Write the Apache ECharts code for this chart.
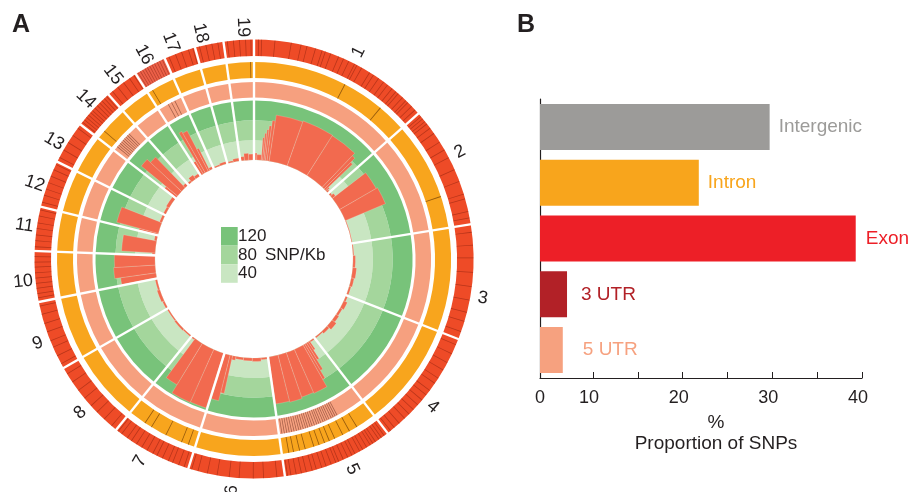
<!DOCTYPE html>
<html><head><meta charset="utf-8">
<script src="https://cdn.jsdelivr.net/npm/echarts@6.0.0/dist/echarts.min.js"></script>
<style>html,body{margin:0;padding:0;background:#fff}#c{width:911px;height:492px}</style>
</head><body><div id="c"></div>
<script>
// ---------------- Panel A data ----------------
const chromNames = ['1','2','3','4','5','6','7','8','9','10','11','12','13','14','15','16','17','18','19'];
// chromosome boundaries (degrees clockwise from top)
const chromBounds = [0, 48.5, 80.9, 111.4, 142.5, 171.9, 197.4, 218.9, 240.2, 258.7, 272.1, 283.8, 296.3, 307.8, 318.5, 327.4, 336.0, 344.4, 352.0, 360];
// chromosome label angles (degrees clockwise from top)
const labelAngles = [26.8, 62.5, 99.7, 129.6, 154.9, 185.5, 209.4, 228.5, 248.7, 264.4, 278.3, 289.0, 300.5, 313.6, 322.6, 331.7, 339.0, 346.7, 357.3];
const densityLevels = [120, 80, 40];   // SNP/Kb band levels
// SNP density bins: [start deg, end deg, SNP/Kb]
const densityBins = [
  [0.4,1.6,14],[1.6,4.2,11],[4.2,5.0,46],[5.0,5.8,55],[5.8,6.6,63],[6.6,7.6,71],[7.6,8.8,82],[8.8,19.6,94],[19.6,32.4,96],[32.4,43.6,95],[43.6,45.0,88],[45.0,46.1,76],[46.1,46.9,9],[46.9,48.0,5],
  [48.9,50.5,4],[50.5,52.3,8],[52.3,60.0,85],[60.0,67.2,88],[67.2,80.5,1.5],
  [81.3,88.0,2],[88.0,95.0,5],[95.0,101.0,8],[101.0,106.0,6],[106.0,111.0,4],
  [111.8,115.0,4],[115.0,119.5,8],[119.5,124.0,5],[124.0,128.0,7],[128.0,132.5,11],[132.5,137.0,6],[137.0,142.1,3],
  [142.9,145.8,3],[145.8,146.8,20],[146.8,148.0,40],[148.0,149.2,62],[149.2,150.3,80],[150.3,156.0,97],[156.0,161.0,95],[161.0,166.0,98],[166.0,171.5,96],
  [172.3,176.0,4],[176.0,181.0,7],[181.0,186.0,6],[186.0,190.5,5],[190.5,192.5,8],[192.5,194.0,78],[194.0,197.0,95],
  [197.8,204.0,116],[204.0,211.5,117],[211.5,216.5,98],[216.5,218.5,3],
  [219.3,225.0,3],[225.0,232.0,4],[232.0,239.8,3],
  [240.6,245.0,4],[245.0,252.0,6],[252.0,258.3,4],
  [259.1,262.0,72],[262.0,266.5,84],[266.5,271.7,82],
  [272.5,273.5,6],[273.5,280.5,68],[280.5,283.4,5],
  [284.2,285.0,40],[285.0,291.5,87],[291.5,295.9,5],
  [296.7,301.0,5],[301.0,307.4,7],
  [308.2,309.5,30],[309.5,313.0,95],[313.0,316.0,86],[316.0,318.1,6],
  [318.9,321.0,4],[321.0,324.0,10],[324.0,327.0,6],
  [327.8,329.2,30],[329.2,330.5,96],[330.5,332.5,92],[332.5,333.5,50],[333.5,335.6,5],
  [336.4,340.0,3],[340.0,344.0,5],
  [344.8,348.0,3],[348.0,351.6,6],
  [352.4,354.5,8],[354.5,357.0,14],[357.0,359.6,12]
];
// SNP position marks (degrees) on the three outer tracks
const outerMarks = [1.2,2.0,5.5,9.8,12.4,14.0,16.3,18.1,19.0,20.5,22.7,24.1,25.6,27.3,28.0,29.4,31.8,33.0,34.6,36.2,37.5,39.0,40.3,41.1,42.6,43.8,44.5,45.9,47.2,
  49.5,50.3,51.2,52.0,53.4,55.1,57.8,60.2,62.5,66.0,69.3,72.8,74.1,77.5,79.2,
  83.0,86.4,89.7,93.5,97.2,100.8,104.1,106.5,109.3,
  113.0,115.6,118.2,120.4,122.9,124.5,126.8,128.3,130.0,131.7,133.4,135.0,136.6,138.5,140.2,141.5,
  143.6,144.5,145.3,146.4,147.2,148.0,149.1,150.3,151.2,152.6,153.5,154.7,156.0,157.3,158.1,159.4,160.8,162.0,163.5,164.6,166.2,167.5,168.9,170.3,171.2,
  174.0,177.5,180.2,183.9,186.5,189.7,192.3,194.8,196.5,
  198.6,200.1,201.8,203.0,204.7,206.3,207.5,209.2,210.8,212.4,214.0,215.3,217.1,218.2,
  220.5,223.1,225.7,228.0,230.6,233.2,235.9,238.4,
  241.5,243.8,246.3,248.1,250.6,252.9,255.4,257.6,
  259.8,260.9,262.3,263.6,265.0,266.4,267.9,269.2,270.6,
  273.2,274.8,276.3,278.0,279.5,281.3,282.9,
  285.0,286.9,288.6,290.4,292.2,294.0,295.5,
  297.6,299.8,302.1,304.3,306.6,
  308.6,309.4,310.2,311.0,311.9,312.6,313.5,314.4,315.3,316.1,317.0,317.8,
  319.8,321.6,323.5,325.4,326.8,
  328.1,328.8,329.5,330.2,330.9,331.6,332.3,333.0,333.8,334.5,335.3,
  337.2,339.0,340.7,342.6,343.8,
  345.6,347.3,348.9,350.5,
  353.0,354.6,356.2,357.8,359.2];
const orangeMarks = [27.5,39.9,71.5,148.5,151.0,153.2,155.8,157.5,159.0,160.7,162.3,164.9,166.6,168.4,169.8,199.5,201.6,206.6,211.4,213.6,310.5,329.0,359.0];
const salmonMarks = [152.0,152.7,153.4,154.1,154.9,155.6,156.3,157.0,157.8,158.5,159.2,160.0,160.8,161.5,162.3,163.0,163.8,164.6,165.3,166.1,166.9,167.7,168.5,169.3,170.1,170.9,
  309.4,310.1,310.8,311.5,312.2,312.9,313.6,314.3,315.0,
  331.0,332.2,333.4];

// ---------------- Panel B data ----------------
const categories = ['Intergenic','Intron','Exon','3 UTR','5 UTR'];
const proportions = [29.7, 21.8, 39.3, 5.1, 4.3];   // % of SNPs
const xTickPercents = [0,10,15,20,25,30,35,40];
const xLabelPercents = [0,10,20,30,40];

// ---------------- style / layout ----------------
const FONT = "'Liberation Sans', Arial, Helvetica, sans-serif";
const TXT = '#231F20';
const CENTER = [254, 259];
const LABEL_R = 232;
const ringDefs = [
  {r0: 203, r1: 219.5, color: '#EE4B27', mark: 'rgba(110,22,8,0.42)', hw: 0.1},
  {r0: 181, r1: 197,   color: '#F8A51D', mark: 'rgba(110,60,5,0.7)', hw: 0.12},
  {r0: 161.5, r1: 177, color: '#F6A07F', mark: 'rgba(95,40,28,0.55)', hw: 0.12}
];
const greenColors = ['#78C37A', '#A4D69C', '#C9E6C2']; // 120, 80, 40 bands
const barColor = '#F26A4F';
const catColors = ['#9C9B99', '#F8A51C', '#ED1F27', '#B22127', '#F6A17F'];
const labelGaps = [9, 9, 10, 14, 20];

// broken x-axis of panel B (0-10 compressed)
const BREAK = 10, LOW_SCALE = 0.591;
const toAxis = p => p <= BREAK ? p * LOW_SCALE : BREAK * LOW_SCALE + (p - BREAK);
const fromAxis = d => d <= BREAK * LOW_SCALE + 1e-6 ? d / LOW_SCALE : d - BREAK * LOW_SCALE + BREAK;

function sectorShape(api, cs, rv0, rv1, a0, a1) {
  const cx = cs.cx, cy = cs.cy;
  const pi0 = api.coord([rv0, a0]);
  const po0 = api.coord([rv1, a0]);
  const po1 = api.coord([rv1, a1]);
  const r0 = Math.hypot(pi0[0] - cx, pi0[1] - cy);
  const r = Math.hypot(po0[0] - cx, po0[1] - cy);
  let s = Math.atan2(po0[1] - cy, po0[0] - cx);
  let e = Math.atan2(po1[1] - cy, po1[0] - cx);
  if (e <= s) e += Math.PI * 2;
  return {cx, cy, r0, r, startAngle: s, endAngle: e, clockwise: true};
}
const mid = i => (chromBounds[i] + chromBounds[i + 1]) / 2;

const chart = echarts.init(document.getElementById('c'), null, {renderer: 'canvas'});
const option = {
  animation: false,
  backgroundColor: '#fff',
  polar: [
    {center: CENTER, radius: [0, 220]},
    {center: CENTER, radius: [99, 158.5]}
  ],
  angleAxis: [
    {polarIndex: 0, type: 'value', min: 0, max: 360, startAngle: 90, clockwise: true, show: false},
    {polarIndex: 1, type: 'value', min: 0, max: 360, startAngle: 90, clockwise: true, show: false}
  ],
  radiusAxis: [
    {polarIndex: 0, type: 'value', min: 0, max: 220, show: false},
    {polarIndex: 1, type: 'value', min: 0, max: 120, show: false}
  ],
  grid: {left: 540, top: 99, width: 322, height: 279, containLabel: false},
  xAxis: {
    type: 'value', min: 0, max: toAxis(40),
    axisLine: {show: true, lineStyle: {color: TXT, width: 1.2}},
    axisTick: {show: true, inside: true, length: 6, lineStyle: {color: TXT, width: 1}, customValues: xTickPercents.map(toAxis)},
    axisLabel: {show: true, customValues: xLabelPercents.map(toAxis),
      formatter: v => { const p = Math.round(fromAxis(v)); return p === 0 ? '{z|0}' : '{s|' + p + '}'; },
      rich: {z: {color: TXT, fontSize: 18, fontFamily: FONT}, s: {color: TXT, fontSize: 18, fontFamily: FONT, padding: [0, 8, 0, 0]}},
      color: TXT, fontSize: 18, fontFamily: FONT, margin: 11},
    splitLine: {show: false},
    name: '%\nProportion of SNPs', nameLocation: 'middle', nameGap: 19,
    nameTextStyle: {color: TXT, fontSize: 19, fontFamily: FONT, lineHeight: 21, padding: [0, 0, 0, 30]}
  },
  yAxis: {
    type: 'category', data: categories, inverse: true,
    axisLine: {show: true, lineStyle: {color: TXT, width: 1.2}},
    axisTick: {show: false}, axisLabel: {show: false}, splitLine: {show: false}
  },
  graphic: [
    {type: 'text', left: 12, top: 13, style: {text: 'A', font: 'bold 25px ' + FONT, fill: TXT}},
    {type: 'text', left: 517, top: 13, style: {text: 'B', font: 'bold 25px ' + FONT, fill: TXT}},
    ...densityLevels.map((lv, k) => ({type: 'rect', shape: {x: 221, y: 227 + k * 18.6, width: 16.7, height: 18.6}, style: {fill: greenColors[k]}})),
    ...densityLevels.map((lv, k) => ({type: 'text', x: 238, y: 236.3 + k * 18.6,
      style: {text: String(lv), font: '17px ' + FONT, fill: TXT, verticalAlign: 'middle', textVerticalAlign: 'middle'}})),
    {type: 'text', x: 265, y: 254.9, style: {text: 'SNP/Kb', font: '17px ' + FONT, fill: TXT, verticalAlign: 'middle', textVerticalAlign: 'middle'}}
  ],
  series: [
    // outer tracks per chromosome
    {type: 'custom', coordinateSystem: 'polar', polarIndex: 0, silent: true, z: 1,
      data: chromNames.map((n, i) => [210, mid(i)]),
      renderItem(params, api) {
        const i = params.dataIndex, cs = params.coordSys;
        const a0 = chromBounds[i], a1 = chromBounds[i + 1];
        return {type: 'group', children: ringDefs.map((rd, k) => ({
          type: 'sector', shape: sectorShape(api, cs, rd.r0, rd.r1, a0, a1),
          style: {fill: (k === 0 && chromNames[i] === '16') ? '#EC6048' : rd.color}
        }))};
      }},
    // marks on outer tracks
    {type: 'custom', coordinateSystem: 'polar', polarIndex: 0, silent: true, z: 2,
      data: [...outerMarks.map(a => [0, a]), ...orangeMarks.map(a => [1, a]), ...salmonMarks.map(a => [2, a])],
      renderItem(params, api) {
        const rd = ringDefs[api.value(0)], a = api.value(1);
        return {type: 'sector', shape: sectorShape(api, params.coordSys, rd.r0, rd.r1, a - rd.hw, a + rd.hw), style: {fill: rd.mark}};
      }},
    // green level bands
    {type: 'custom', coordinateSystem: 'polar', polarIndex: 1, silent: true, z: 1,
      data: chromNames.map((n, i) => [120, mid(i)]),
      renderItem(params, api) {
        const i = params.dataIndex, cs = params.coordSys;
        const a0 = chromBounds[i], a1 = chromBounds[i + 1];
        const lv = densityLevels.slice().reverse(); // 40, 80, 120
        return {type: 'group', children: lv.map((top, k) => ({
          type: 'sector', shape: sectorShape(api, cs, k === 0 ? 0 : lv[k - 1], top, a0, a1),
          style: {fill: greenColors[2 - k]}
        }))};
      }},
    // SNP density histogram
    {type: 'custom', coordinateSystem: 'polar', polarIndex: 1, silent: true, z: 3,
      data: densityBins.map(b => [b[2], (b[0] + b[1]) / 2]),
      renderItem(params, api) {
        const b = densityBins[params.dataIndex];
        return {type: 'sector', shape: sectorShape(api, params.coordSys, 0, b[2], b[0], b[1]),
          style: {fill: barColor, stroke: 'rgba(255,255,255,0.35)', lineWidth: 0.5}};
      }},
    // chromosome separators
    {type: 'custom', coordinateSystem: 'polar', polarIndex: 0, silent: true, z: 5,
      data: chromBounds.slice(0, 19).map(a => [220, a]),
      renderItem(params, api) {
        const a = api.value(1);
        const p0 = api.coord([96, a]), p1 = api.coord([222, a]);
        return {type: 'line', shape: {x1: p0[0], y1: p0[1], x2: p1[0], y2: p1[1]}, style: {stroke: '#fff', lineWidth: 2.4}};
      }},
    // chromosome labels
    {type: 'custom', coordinateSystem: 'polar', polarIndex: 0, silent: true, z: 6,
      data: labelAngles.map(a => [LABEL_R, a]),
      renderItem(params, api) {
        const i = params.dataIndex, th = labelAngles[i];
        const p = api.coord([LABEL_R, th]);
        const rotCw = th < 180 ? th - 90 : th - 270;
        return {type: 'text', x: p[0], y: p[1], rotation: -rotCw * Math.PI / 180,
          style: {text: chromNames[i], font: '18px ' + FONT, fill: TXT, align: 'center', verticalAlign: 'middle', textAlign: 'center', textVerticalAlign: 'middle'}};
      }},
    // panel B bars
    {type: 'bar', barWidth: 46, silent: true,
      data: proportions.map((p, i) => ({
        value: toAxis(p),
        itemStyle: {color: catColors[i]},
        label: {show: true, position: 'right', distance: labelGaps[i], formatter: categories[i],
          color: catColors[i], fontSize: 19, fontFamily: FONT}
      }))}
  ]
};
chart.setOption(option);
</script></body></html>
